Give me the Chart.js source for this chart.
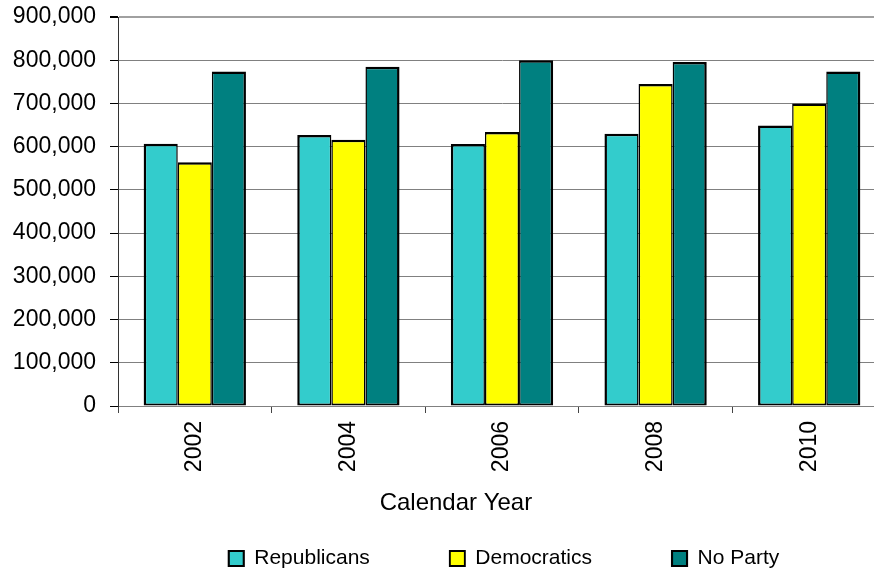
<!DOCTYPE html>
<html>
<head>
<meta charset="utf-8">
<script src="https://cdn.jsdelivr.net/npm/chart.js@4/dist/chart.umd.min.js"></script>
<style>
  html, body { margin: 0; padding: 0; background: #fff; overflow: hidden; }
  #wrap { width: 874px; height: 571px; overflow: hidden; }
</style>
</head>
<body>
<div id="wrap"><canvas id="partyChart" width="1008" height="571"></canvas></div>
<script>
// Data
const years = ['2002', '2004', '2006', '2008', '2010'];
const republicans = [607000, 627000, 606000, 630000, 649000];
const democratics = [564000, 616000, 634000, 745000, 700000];
const noParty = [774000, 785000, 800000, 796000, 774000];
const axisTitle = 'Calendar Year';
const yMax = 900000;
const yStep = 100000;

const FONT = '"Liberation Sans", Arial, sans-serif';
const LEGEND_H = 93;
const LEGEND_SHIFT = 10;

// Legend: wide gaps between items, but keep the box short
const legendFit = {
  id: 'legendFit',
  beforeLayout(chart) {
    const legend = chart.legend;
    if (legend && !legend._patched) {
      const origFit = legend.fit;
      const origDraw = legend._draw;
      legend.fit = function () {
        origFit.call(this);
        this.height = LEGEND_H;
      };
      legend._draw = function () {
        const top = this.top;
        this.top = top - LEGEND_SHIFT;
        origDraw.call(this);
        this.top = top;
      };
      legend._patched = true;
    }
  }
};

// x axis title, sits a bit left of the plot centre like the original
const xTitle = {
  id: 'xTitle',
  afterDraw(chart) {
    const { ctx, chartArea } = chart;
    ctx.save();
    ctx.font = '24px ' + FONT;
    ctx.fillStyle = '#000';
    ctx.textAlign = 'center';
    ctx.textBaseline = 'middle';
    const x = chartArea.left + (chartArea.right - chartArea.left) * 0.44;
    ctx.fillText(axisTitle, x, chartArea.bottom + 97);
    ctx.restore();
  }
};

const ctx = document.getElementById('partyChart').getContext('2d');
new Chart(ctx, {
  type: 'bar',
  data: {
    labels: years,
    datasets: [
      { label: 'Republicans', data: republicans, backgroundColor: '#33CCCC', borderColor: '#000',
        borderWidth: { top: 2.5, left: 2.5, right: 1.5, bottom: 2 } },
      { label: 'Democratics', data: democratics, backgroundColor: '#FFFF00', borderColor: '#000',
        borderWidth: { top: 2.5, left: 1.5, right: 1.5, bottom: 2 } },
      { label: 'No Party', data: noParty, backgroundColor: '#008080', borderColor: '#000',
        borderWidth: { top: 2.5, left: 1.5, right: 2.5, bottom: 2 } }
    ]
  },
  options: {
    responsive: false,
    animation: false,
    devicePixelRatio: 1,
    layout: { padding: { top: 17, left: 0, right: 0, bottom: 0 } },
    datasets: {
      bar: { categoryPercentage: 0.666, barPercentage: 1.0, borderSkipped: false }
    },
    scales: {
      x: {
        grid: { offset: true, drawOnChartArea: false, tickLength: 7, color: '#444' },
        border: { color: '#808080' },
        ticks: {
          minRotation: 90, maxRotation: 90, padding: 8,
          color: '#000', font: { family: FONT, size: 23 }
        },
        afterFit(scale) { scale.height = 72; }
      },
      y: {
        min: 0,
        max: yMax,
        grid: {
          color: c => c.tick && c.tick.value === yMax ? '#a0a0a0' : '#808080',
          lineWidth: c => c.tick && c.tick.value === yMax ? 2 : 1,
          tickColor: '#000',
          tickLength: 8
        },
        border: { color: '#333' },
        ticks: {
          stepSize: yStep,
          padding: 14,
          color: '#000',
          font: { family: FONT, size: 23, lineHeight: 0.25 },
          callback: v => v.toLocaleString('en-US')
        },
        afterFit(scale) { scale.width = 118; }
      },
      yRight: {
        position: 'right',
        display: true,
        grid: { display: false },
        ticks: { display: false },
        border: { display: false },
        afterFit(scale) { scale.width = 122; }
      }
    },
    plugins: {
      legend: {
        position: 'bottom',
        labels: {
          boxWidth: 15,
          boxHeight: 15,
          padding: 80,
          color: '#000',
          font: { family: FONT, size: 21 }
        }
      },
      tooltip: { enabled: false }
    }
  },
  plugins: [legendFit, xTitle]
});
</script>
</body>
</html>
